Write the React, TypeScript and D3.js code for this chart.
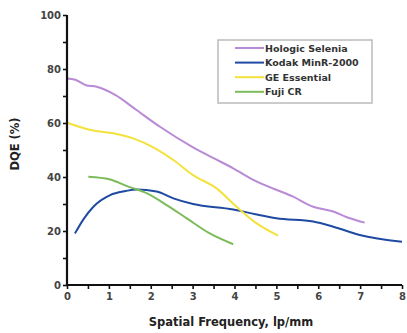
import React, { useRef, useEffect } from "react";
import * as d3 from "d3";

// DQE vs spatial frequency
const hologicX = [0, 0.2, 0.45, 0.71, 1.15, 1.66, 2.22, 3.01, 3.5, 3.97, 4.45, 5.4, 5.88, 6.36, 6.7, 7.11];
const hologicY = [76.5, 76, 74, 73.4, 70.4, 64.8, 58.6, 51, 47, 43.2, 38.9, 32.7, 29, 27.2, 25, 23.1];
const kodakX = [0.19, 0.4, 0.63, 1.03, 1.4, 1.66, 2.14, 2.54, 3.01, 3.97, 4.5, 5.0, 5.88, 6.36, 6.99, 8.0];
const kodakY = [19.1, 24.5, 29, 33.3, 34.8, 35.4, 34.6, 32.1, 30, 28, 26.2, 24.7, 23.5, 21.6, 18.5, 16];
const geX = [0, 0.63, 1.1, 1.58, 2.06, 2.54, 3.01, 3.57, 4.05, 4.53, 5.04];
const geY = [60.1, 57.2, 56.2, 54.3, 51, 46.3, 40.7, 35.8, 29, 22.8, 18.3];
const fujiX = [0.51, 1.03, 1.42, 1.9, 2.38, 2.86, 3.41, 3.97];
const fujiY = [40.1, 39.1, 36.7, 34, 29.6, 24.7, 19.1, 15.1];

const seriesNames = ["Hologic Selenia", "Kodak MinR-2000", "GE Essential", "Fuji CR"];
const seriesColors = ["#b98ad6", "#1f4aa3", "#f4e23c", "#7dbb5a"];
const xTicks = [0, 1, 2, 3, 4, 5, 6, 7, 8];
const yTicks = [0, 20, 40, 60, 80, 100];

export default function App() {
  const svgRef = useRef<SVGSVGElement | null>(null);

  useEffect(() => {
    if (!svgRef.current) return;
    const W = 407, H = 333;
    const svg = d3.select(svgRef.current).attr("width", W).attr("height", H);
    svg.selectAll("*").remove();

    const x = d3.scaleLinear().domain([0, 8]).range([67, 402]);
    const y = d3.scaleLinear().domain([0, 100]).range([285, 15]);
    const font = "DejaVu Sans, sans-serif";

    const series = [
      { xs: hologicX, ys: hologicY },
      { xs: kodakX, ys: kodakY },
      { xs: geX, ys: geY },
      { xs: fujiX, ys: fujiY },
    ];

    const line = d3.line<[number, number]>().x((d) => x(d[0])).y((d) => y(d[1])).curve(d3.curveMonotoneX);
    series.forEach((s, i) => {
      const pts = s.xs.map((v, j) => [v, s.ys[j]] as [number, number]);
      svg.append("path").datum(pts).attr("fill", "none").attr("stroke", seriesColors[i])
        .attr("stroke-width", 2).attr("stroke-linejoin", "round").attr("d", line);
    });

    // y axis
    svg.append("g").attr("transform", `translate(${x(0)},0)`)
      .call(d3.axisLeft(y).tickValues(d3.range(0, 101, 10)).tickSize(4).tickFormat((d) => (yTicks.includes(+d) ? String(d) : "")))
      .call((g) => g.select(".domain").attr("stroke", "#111").attr("stroke-width", 2.2).attr("d", `M0,${y(100)}V${y(0)}`))
      .call((g) => g.selectAll(".tick line").attr("stroke", "#111").attr("stroke-width", 1.6))
      .call((g) => g.selectAll(".tick text").attr("fill", "#444").attr("font-size", "10px").attr("font-weight", "bold").attr("font-family", font).attr("x", -6));

    // x axis
    svg.append("g").attr("transform", `translate(0,${y(0)})`)
      .call(d3.axisBottom(x).tickValues(d3.range(0, 8.01, 0.5)).tickSize(4).tickFormat((d) => (xTicks.includes(+d) ? String(d) : "")))
      .call((g) => g.select(".domain").attr("stroke", "#111").attr("stroke-width", 2.2).attr("d", `M${x(0)},0H${x(8)}`))
      .call((g) => g.selectAll(".tick line").attr("stroke", "#111").attr("stroke-width", 1.6))
      .call((g) => g.selectAll(".tick text").attr("fill", "#444").attr("font-size", "10px").attr("font-weight", "bold").attr("font-family", font).attr("y", 8));

    // axis titles
    svg.append("text").attr("transform", "translate(19,144) rotate(-90)").attr("text-anchor", "middle")
      .attr("font-size", "11.5px").attr("font-weight", "bold").attr("font-family", font).attr("fill", "#222").text("DQE (%)");
    svg.append("text").attr("x", 231).attr("y", 326).attr("text-anchor", "middle")
      .attr("font-size", "11.5px").attr("font-weight", "bold").attr("font-family", font).attr("fill", "#222").text("Spatial Frequency, lp/mm");

    // legend
    const lg = svg.append("g").attr("transform", "translate(218,40)");
    lg.append("rect").attr("width", 154).attr("height", 63).attr("fill", "#fff").attr("stroke", "#bbb").attr("stroke-width", 1.5);
    seriesNames.forEach((name, i) => {
      const yy = 8 + i * 14.6;
      lg.append("line").attr("x1", 17).attr("x2", 46).attr("y1", yy).attr("y2", yy)
        .attr("stroke", seriesColors[i]).attr("stroke-width", 2);
      lg.append("text").attr("x", 47).attr("y", yy + 3.5).attr("font-size", "9.5px").attr("font-weight", "bold")
        .attr("font-family", font).attr("fill", "#333").text(name);
    });
  }, []);

  return (
    <div style={{ position: "fixed", left: 0, top: 0, background: "#fff" }}>
      <svg ref={svgRef} style={{ display: "block" }} />
    </div>
  );
}
